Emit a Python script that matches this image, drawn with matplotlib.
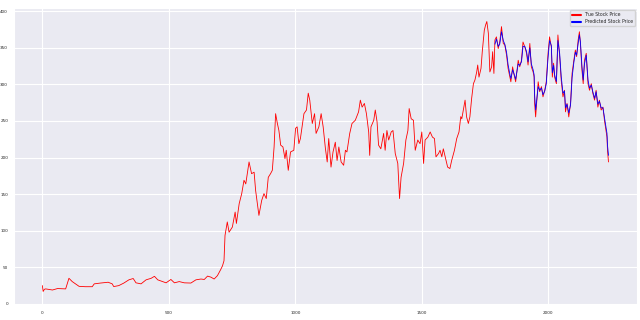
import matplotlib
matplotlib.use("Agg")
import matplotlib.pyplot as plt
import seaborn as sns

# true stock price (day index, price)
x_true = [0, 3, 8, 13, 40, 60, 92, 105, 118, 131, 145, 170, 197, 205, 230, 260, 276, 282,
          302, 322, 342, 359, 370, 390, 410, 430, 443, 456, 476, 489, 508, 522, 541, 561,
          587, 607, 627, 640, 653, 666, 679, 692, 705, 712, 718, 722, 731, 738, 751, 762,
          767, 778, 788, 797, 804, 817, 827, 837, 843, 850, 856, 867, 876, 885, 893, 902,
          909, 916, 922, 929, 935, 942, 951, 959, 964, 972, 981, 994, 1001, 1007, 1014,
          1020, 1034, 1044, 1051, 1057, 1067, 1076, 1082, 1093, 1102, 1110, 1119, 1126,
          1132, 1141, 1149, 1158, 1165, 1172, 1181, 1191, 1198, 1204, 1215, 1224, 1237,
          1250, 1257, 1264, 1273, 1281, 1290, 1294, 1299, 1310, 1316, 1323, 1329, 1338,
          1349, 1355, 1362, 1369, 1379, 1386, 1395, 1405, 1412, 1418, 1428, 1437, 1445,
          1450, 1458, 1467, 1474, 1484, 1493, 1500, 1507, 1513, 1524, 1533, 1542, 1550,
          1556, 1566, 1572, 1579, 1585, 1594, 1602, 1611, 1618, 1629, 1638, 1647, 1654,
          1658, 1664, 1671, 1677, 1684, 1690, 1697, 1704, 1710, 1717, 1721, 1726, 1734,
          1739, 1747, 1752, 1757, 1763, 1769, 1776, 1780, 1785, 1789, 1795, 1802, 1808,
          1815, 1822, 1828, 1835, 1841, 1848, 1852, 1859, 1865, 1871, 1881, 1887, 1894,
          1900, 1907, 1914, 1920, 1927, 1933, 1940, 1944, 1946, 1950, 1960, 1966, 1973,
          1979, 1986, 1992, 1999, 2005, 2012, 2016, 2021, 2025, 2032, 2038, 2045, 2051,
          2058, 2064, 2068, 2074, 2081, 2088, 2094, 2101, 2107, 2112, 2118, 2123, 2127,
          2133, 2138, 2143, 2150, 2157, 2163, 2170, 2176, 2183, 2189, 2196, 2202, 2209,
          2216, 2222, 2226, 2232, 2234, 2238]
y_true = [25, 17, 20, 20.5, 19, 21, 20.5, 35, 30.5, 27.4, 24, 23.5, 23.5, 27.4, 28.5, 29.6,
          27.4, 23.7, 25, 28.5, 32.9, 34.7, 28.8, 27.4, 32.9, 35, 37.7, 32.9, 30.5, 28.8,
          33.4, 28.8, 30.5, 28.8, 28.5, 32.9, 34, 33.4, 38, 36.6, 34, 38.6, 47, 52, 59,
          93.6, 112, 98, 105, 125.5, 110, 137, 150.7, 169, 164, 194, 178, 180, 155, 137,
          121, 141.5, 150.7, 144, 173, 178, 182.6, 214.5, 260, 246.6, 237, 217, 214.5,
          198.6, 210, 182.6, 207.7, 210, 240, 242, 219, 226, 260, 265, 288, 278.5, 246.6,
          260, 233, 242, 260, 242, 212, 194, 226, 187, 207.7, 221, 196, 214.5, 194, 189.5,
          210, 207.7, 233, 246.6, 251, 262.5, 278.5, 269, 274, 260, 235, 203, 242, 251,
          265, 249, 217, 212, 233, 210, 237, 224, 235, 237, 205.5, 192, 144, 173, 192, 224,
          237, 267, 253, 251, 210, 224, 219, 235, 192, 224, 228, 235, 228, 226, 201, 205.5,
          210, 201, 212, 198.6, 187, 185, 196, 210, 226, 235, 256, 253, 265, 278.5, 255.6,
          246.6, 255.6, 281, 301, 306, 317, 326.5, 310, 322, 344.7, 374, 381, 386, 370,
          317, 324, 344.7, 315, 360.7, 365, 349, 358, 379, 356, 354, 340, 322, 310, 303.6,
          324, 312.8, 303.6, 333, 324, 333, 358, 351.5, 342.5, 326.5, 356, 324, 317, 310,
          274, 255.6, 303.6, 290, 297, 283, 292, 303.6, 342.5, 365, 351.5, 310, 329, 310,
          301, 367.6, 338, 306, 283, 292, 262.5, 274, 255.6, 274, 315, 333, 347, 338,
          360.7, 372, 356, 319.6, 301, 333, 342.5, 301, 292, 301, 288, 278.5, 292, 269,
          278.5, 265, 269, 251, 242, 228, 210, 194]

# model prediction on the test window
x_pred = x_true[x_true.index(1789):]
y_pred = [355, 362, 352, 355, 372, 360, 355, 344, 327, 314, 308, 320, 314, 307, 328, 326,
          331, 352, 352, 345, 331, 350, 328, 320, 313, 285, 265, 297, 292, 295, 286, 291,
          301, 336, 360, 353, 316, 326, 313, 304, 360, 342, 311, 288, 291, 268, 273, 261,
          272, 309, 330, 344, 340, 356, 368, 358, 325, 306, 328, 340, 306, 295, 299, 290,
          281, 290, 273, 277, 268, 268, 255, 246, 233, 217, 203]

sns.set_style("darkgrid")
plt.rcParams['font.family'] = ['DejaVu Sans']

fig = plt.figure(figsize=(6.4, 3.2), dpi=100)
ax = fig.add_axes([0.022, 0.047, 0.973, 0.928])
ax.plot(x_true, y_true, color='red', linewidth=0.6, label='True Stock Price')
ax.plot(x_pred, y_pred, color='blue', linewidth=0.6, label='Predicted Stock Price')
ax.set_yticks(range(0, 401, 50))
ax.set_xticks(range(0, 2001, 500))
ax.tick_params(labelsize=3.0, pad=0.8)
leg = ax.legend(loc='upper right', fontsize=3.3, frameon=True)
for line in leg.get_lines():
    line.set_linewidth(1.5)

fig.savefig('out.png', dpi=100)
